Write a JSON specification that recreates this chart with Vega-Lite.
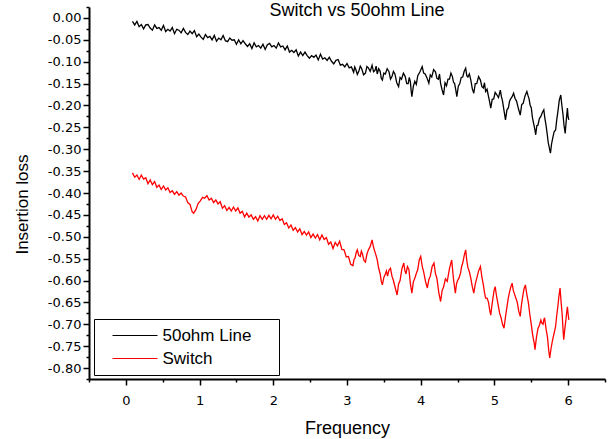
{
  "$schema": "https://vega.github.io/schema/vega-lite/v6.json",
  "width": 516,
  "height": 372,
  "autosize": {"type": "none"},
  "padding": {"left": 89, "top": 7, "right": 8, "bottom": 60},
  "background": "white",
  "title": {"text": "Switch vs 50ohm Line", "font": "Liberation Sans", "fontSize": 18, "fontWeight": "normal", "color": "black", "anchor": "middle", "frame": "group", "baseline": "alphabetic", "offset": 4, "dy": 32, "dx": 10},
  "config": {
    "view": {"stroke": null},
    "axis": {"domainColor": "black", "tickColor": "black", "labelColor": "black", "titleColor": "black", "grid": false, "labelFont": "DejaVu Sans", "titleFont": "Liberation Sans", "titleFontWeight": "normal"}
  },
  "datasets": {
    "black": [
      {"f":0.09,"v":-0.008},{"f":0.12,"v":-0.016},{"f":0.15,"v":-0.008},{"f":0.18,"v":-0.020},{"f":0.21,"v":-0.015},{"f":0.24,"v":-0.025},{"f":0.27,"v":-0.016},{"f":0.30,"v":-0.015},{"f":0.33,"v":-0.023},{"f":0.36,"v":-0.028},
      {"f":0.39,"v":-0.016},{"f":0.42,"v":-0.024},{"f":0.45,"v":-0.022},{"f":0.48,"v":-0.028},{"f":0.51,"v":-0.017},{"f":0.54,"v":-0.031},{"f":0.57,"v":-0.026},{"f":0.60,"v":-0.030},{"f":0.63,"v":-0.022},{"f":0.66,"v":-0.036},
      {"f":0.69,"v":-0.026},{"f":0.72,"v":-0.028},{"f":0.75,"v":-0.034},{"f":0.78,"v":-0.024},{"f":0.81,"v":-0.033},{"f":0.84,"v":-0.038},{"f":0.87,"v":-0.030},{"f":0.90,"v":-0.036},{"f":0.93,"v":-0.029},{"f":0.96,"v":-0.043},
      {"f":0.99,"v":-0.037},{"f":1.02,"v":-0.044},{"f":1.05,"v":-0.049},{"f":1.08,"v":-0.038},{"f":1.11,"v":-0.045},{"f":1.14,"v":-0.042},{"f":1.17,"v":-0.050},{"f":1.20,"v":-0.040},{"f":1.23,"v":-0.053},{"f":1.26,"v":-0.046},
      {"f":1.29,"v":-0.050},{"f":1.32,"v":-0.040},{"f":1.35,"v":-0.052},{"f":1.38,"v":-0.054},{"f":1.41,"v":-0.046},{"f":1.44,"v":-0.051},{"f":1.47,"v":-0.050},{"f":1.50,"v":-0.060},{"f":1.53,"v":-0.050},{"f":1.56,"v":-0.059},
      {"f":1.59,"v":-0.052},{"f":1.62,"v":-0.059},{"f":1.65,"v":-0.065},{"f":1.68,"v":-0.059},{"f":1.71,"v":-0.070},{"f":1.74,"v":-0.057},{"f":1.77,"v":-0.066},{"f":1.80,"v":-0.063},{"f":1.83,"v":-0.069},{"f":1.86,"v":-0.060},
      {"f":1.89,"v":-0.072},{"f":1.92,"v":-0.061},{"f":1.95,"v":-0.058},{"f":1.98,"v":-0.066},{"f":2.01,"v":-0.063},{"f":2.04,"v":-0.069},{"f":2.07,"v":-0.057},{"f":2.10,"v":-0.066},{"f":2.13,"v":-0.064},{"f":2.16,"v":-0.073},
      {"f":2.19,"v":-0.064},{"f":2.22,"v":-0.078},{"f":2.25,"v":-0.074},{"f":2.28,"v":-0.079},{"f":2.31,"v":-0.073},{"f":2.34,"v":-0.087},{"f":2.37,"v":-0.078},{"f":2.40,"v":-0.086},{"f":2.43,"v":-0.078},{"f":2.46,"v":-0.086},
      {"f":2.49,"v":-0.092},{"f":2.52,"v":-0.086},{"f":2.55,"v":-0.090},{"f":2.58,"v":-0.085},{"f":2.61,"v":-0.096},{"f":2.64,"v":-0.083},{"f":2.67,"v":-0.094},{"f":2.70,"v":-0.091},{"f":2.73,"v":-0.097},{"f":2.76,"v":-0.090},
      {"f":2.79,"v":-0.099},{"f":2.82,"v":-0.105},{"f":2.85,"v":-0.097},{"f":2.88,"v":-0.095},{"f":2.91,"v":-0.108},{"f":2.94,"v":-0.106},{"f":2.97,"v":-0.112},{"f":3.00,"v":-0.104},{"f":3.03,"v":-0.114},{"f":3.06,"v":-0.112},
      {"f":3.09,"v":-0.124},{"f":3.105,"v":-0.112},{"f":3.12,"v":-0.118},{"f":3.14,"v":-0.129},{"f":3.16,"v":-0.122},{"f":3.18,"v":-0.110},{"f":3.20,"v":-0.116},{"f":3.225,"v":-0.130},{"f":3.25,"v":-0.126},{"f":3.27,"v":-0.111},
      {"f":3.29,"v":-0.114},{"f":3.315,"v":-0.122},{"f":3.34,"v":-0.108},{"f":3.36,"v":-0.123},{"f":3.38,"v":-0.120},{"f":3.395,"v":-0.110},{"f":3.41,"v":-0.128},{"f":3.43,"v":-0.116},{"f":3.45,"v":-0.122},{"f":3.465,"v":-0.138},
      {"f":3.48,"v":-0.142},{"f":3.50,"v":-0.126},{"f":3.52,"v":-0.128},{"f":3.545,"v":-0.116},{"f":3.57,"v":-0.123},{"f":3.59,"v":-0.140},{"f":3.61,"v":-0.134},{"f":3.63,"v":-0.122},{"f":3.65,"v":-0.128},{"f":3.675,"v":-0.148},
      {"f":3.70,"v":-0.157},{"f":3.72,"v":-0.136},{"f":3.74,"v":-0.140},{"f":3.765,"v":-0.126},{"f":3.79,"v":-0.134},{"f":3.81,"v":-0.150},{"f":3.83,"v":-0.150},{"f":3.845,"v":-0.136},{"f":3.86,"v":-0.146},{"f":3.87,"v":-0.166},
      {"f":3.88,"v":-0.180},{"f":3.90,"v":-0.156},{"f":3.92,"v":-0.145},{"f":3.94,"v":-0.152},{"f":3.96,"v":-0.132},{"f":3.99,"v":-0.123},{"f":4.02,"v":-0.111},{"f":4.04,"v":-0.126},{"f":4.06,"v":-0.128},{"f":4.085,"v":-0.137},
      {"f":4.11,"v":-0.149},{"f":4.13,"v":-0.130},{"f":4.15,"v":-0.135},{"f":4.175,"v":-0.118},{"f":4.20,"v":-0.123},{"f":4.22,"v":-0.138},{"f":4.24,"v":-0.140},{"f":4.255,"v":-0.128},{"f":4.27,"v":-0.150},{"f":4.29,"v":-0.164},
      {"f":4.31,"v":-0.176},{"f":4.33,"v":-0.148},{"f":4.35,"v":-0.155},{"f":4.37,"v":-0.140},{"f":4.39,"v":-0.140},{"f":4.41,"v":-0.126},{"f":4.43,"v":-0.134},{"f":4.445,"v":-0.147},{"f":4.46,"v":-0.150},{"f":4.475,"v":-0.164},
      {"f":4.49,"v":-0.180},{"f":4.51,"v":-0.156},{"f":4.53,"v":-0.150},{"f":4.55,"v":-0.136},{"f":4.57,"v":-0.135},{"f":4.59,"v":-0.122},{"f":4.61,"v":-0.115},{"f":4.625,"v":-0.132},{"f":4.64,"v":-0.135},{"f":4.66,"v":-0.128},
      {"f":4.68,"v":-0.142},{"f":4.70,"v":-0.162},{"f":4.72,"v":-0.172},{"f":4.74,"v":-0.150},{"f":4.76,"v":-0.150},{"f":4.785,"v":-0.134},{"f":4.81,"v":-0.142},{"f":4.83,"v":-0.157},{"f":4.85,"v":-0.160},{"f":4.865,"v":-0.148},
      {"f":4.88,"v":-0.168},{"f":4.90,"v":-0.163},{"f":4.92,"v":-0.180},{"f":4.935,"v":-0.192},{"f":4.95,"v":-0.206},{"f":4.97,"v":-0.186},{"f":4.99,"v":-0.185},{"f":5.01,"v":-0.170},{"f":5.03,"v":-0.175},{"f":5.055,"v":-0.182},
      {"f":5.08,"v":-0.165},{"f":5.095,"v":-0.180},{"f":5.11,"v":-0.190},{"f":5.13,"v":-0.212},{"f":5.15,"v":-0.233},{"f":5.17,"v":-0.210},{"f":5.19,"v":-0.205},{"f":5.205,"v":-0.190},{"f":5.22,"v":-0.185},{"f":5.24,"v":-0.180},
      {"f":5.26,"v":-0.172},{"f":5.28,"v":-0.184},{"f":5.30,"v":-0.190},{"f":5.325,"v":-0.207},{"f":5.35,"v":-0.222},{"f":5.37,"v":-0.198},{"f":5.39,"v":-0.195},{"f":5.415,"v":-0.178},{"f":5.44,"v":-0.168},{"f":5.455,"v":-0.177},
      {"f":5.47,"v":-0.185},{"f":5.485,"v":-0.200},{"f":5.50,"v":-0.205},{"f":5.515,"v":-0.227},{"f":5.53,"v":-0.240},{"f":5.545,"v":-0.252},{"f":5.56,"v":-0.267},{"f":5.575,"v":-0.246},{"f":5.59,"v":-0.245},{"f":5.61,"v":-0.230},
      {"f":5.63,"v":-0.225},{"f":5.65,"v":-0.216},{"f":5.67,"v":-0.210},{"f":5.685,"v":-0.230},{"f":5.70,"v":-0.245},{"f":5.715,"v":-0.264},{"f":5.73,"v":-0.285},{"f":5.745,"v":-0.297},{"f":5.76,"v":-0.309},{"f":5.775,"v":-0.288},
      {"f":5.79,"v":-0.275},{"f":5.81,"v":-0.260},{"f":5.83,"v":-0.256},{"f":5.845,"v":-0.233},{"f":5.86,"v":-0.215},{"f":5.88,"v":-0.188},{"f":5.90,"v":-0.176},{"f":5.915,"v":-0.200},{"f":5.93,"v":-0.220},{"f":5.945,"v":-0.247},
      {"f":5.96,"v":-0.264},{"f":5.975,"v":-0.233},{"f":5.99,"v":-0.206},{"f":6.00,"v":-0.227},{"f":6.01,"v":-0.233}
    ],
    "red": [
      {"f":0.09,"v":-0.354},{"f":0.12,"v":-0.364},{"f":0.15,"v":-0.359},{"f":0.18,"v":-0.369},{"f":0.21,"v":-0.359},{"f":0.24,"v":-0.368},{"f":0.27,"v":-0.365},{"f":0.30,"v":-0.379},{"f":0.33,"v":-0.370},{"f":0.36,"v":-0.381},
      {"f":0.39,"v":-0.374},{"f":0.42,"v":-0.387},{"f":0.45,"v":-0.382},{"f":0.48,"v":-0.392},{"f":0.51,"v":-0.384},{"f":0.54,"v":-0.393},{"f":0.57,"v":-0.388},{"f":0.60,"v":-0.399},{"f":0.63,"v":-0.395},{"f":0.66,"v":-0.403},
      {"f":0.69,"v":-0.397},{"f":0.72,"v":-0.405},{"f":0.75,"v":-0.400},{"f":0.78,"v":-0.407},{"f":0.81,"v":-0.409},{"f":0.84,"v":-0.422},{"f":0.87,"v":-0.426},{"f":0.90,"v":-0.443},{"f":0.92,"v":-0.446},{"f":0.95,"v":-0.438},
      {"f":0.98,"v":-0.424},{"f":1.01,"v":-0.418},{"f":1.04,"v":-0.410},{"f":1.07,"v":-0.412},{"f":1.10,"v":-0.406},{"f":1.13,"v":-0.416},{"f":1.16,"v":-0.412},{"f":1.19,"v":-0.422},{"f":1.22,"v":-0.416},{"f":1.25,"v":-0.425},
      {"f":1.28,"v":-0.420},{"f":1.31,"v":-0.435},{"f":1.34,"v":-0.429},{"f":1.37,"v":-0.440},{"f":1.40,"v":-0.433},{"f":1.43,"v":-0.441},{"f":1.46,"v":-0.432},{"f":1.49,"v":-0.441},{"f":1.52,"v":-0.434},{"f":1.55,"v":-0.446},
      {"f":1.58,"v":-0.442},{"f":1.61,"v":-0.455},{"f":1.64,"v":-0.446},{"f":1.67,"v":-0.455},{"f":1.70,"v":-0.450},{"f":1.73,"v":-0.460},{"f":1.76,"v":-0.454},{"f":1.79,"v":-0.464},{"f":1.82,"v":-0.452},{"f":1.85,"v":-0.460},
      {"f":1.88,"v":-0.452},{"f":1.91,"v":-0.460},{"f":1.94,"v":-0.451},{"f":1.97,"v":-0.459},{"f":2.00,"v":-0.450},{"f":2.03,"v":-0.460},{"f":2.06,"v":-0.453},{"f":2.09,"v":-0.463},{"f":2.12,"v":-0.459},{"f":2.15,"v":-0.472},
      {"f":2.18,"v":-0.468},{"f":2.21,"v":-0.480},{"f":2.24,"v":-0.473},{"f":2.27,"v":-0.485},{"f":2.30,"v":-0.479},{"f":2.33,"v":-0.489},{"f":2.36,"v":-0.482},{"f":2.39,"v":-0.495},{"f":2.42,"v":-0.488},{"f":2.45,"v":-0.496},
      {"f":2.48,"v":-0.489},{"f":2.51,"v":-0.502},{"f":2.54,"v":-0.494},{"f":2.57,"v":-0.503},{"f":2.60,"v":-0.495},{"f":2.63,"v":-0.507},{"f":2.66,"v":-0.496},{"f":2.69,"v":-0.506},{"f":2.72,"v":-0.502},{"f":2.75,"v":-0.517},
      {"f":2.78,"v":-0.512},{"f":2.81,"v":-0.527},{"f":2.84,"v":-0.513},{"f":2.87,"v":-0.521},{"f":2.90,"v":-0.510},{"f":2.93,"v":-0.529},{"f":2.96,"v":-0.530},{"f":2.99,"v":-0.546},{"f":3.02,"v":-0.545},{"f":3.05,"v":-0.563},
      {"f":3.08,"v":-0.566},{"f":3.095,"v":-0.552},{"f":3.11,"v":-0.548},{"f":3.125,"v":-0.536},{"f":3.14,"v":-0.530},{"f":3.16,"v":-0.543},{"f":3.18,"v":-0.545},{"f":3.195,"v":-0.533},{"f":3.21,"v":-0.540},{"f":3.23,"v":-0.554},
      {"f":3.25,"v":-0.558},{"f":3.27,"v":-0.540},{"f":3.29,"v":-0.530},{"f":3.315,"v":-0.522},{"f":3.34,"v":-0.507},{"f":3.36,"v":-0.524},{"f":3.38,"v":-0.535},{"f":3.395,"v":-0.543},{"f":3.41,"v":-0.553},{"f":3.43,"v":-0.572},
      {"f":3.45,"v":-0.585},{"f":3.465,"v":-0.602},{"f":3.48,"v":-0.610},{"f":3.50,"v":-0.593},{"f":3.52,"v":-0.585},{"f":3.535,"v":-0.578},{"f":3.55,"v":-0.590},{"f":3.57,"v":-0.576},{"f":3.59,"v":-0.572},{"f":3.61,"v":-0.590},
      {"f":3.63,"v":-0.600},{"f":3.655,"v":-0.617},{"f":3.68,"v":-0.633},{"f":3.70,"v":-0.608},{"f":3.72,"v":-0.600},{"f":3.745,"v":-0.573},{"f":3.77,"v":-0.560},{"f":3.785,"v":-0.577},{"f":3.80,"v":-0.585},{"f":3.82,"v":-0.568},
      {"f":3.84,"v":-0.575},{"f":3.86,"v":-0.607},{"f":3.88,"v":-0.629},{"f":3.90,"v":-0.603},{"f":3.92,"v":-0.595},{"f":3.94,"v":-0.584},{"f":3.96,"v":-0.575},{"f":3.98,"v":-0.553},{"f":4.00,"v":-0.545},{"f":4.02,"v":-0.567},
      {"f":4.04,"v":-0.580},{"f":4.065,"v":-0.602},{"f":4.09,"v":-0.617},{"f":4.11,"v":-0.598},{"f":4.13,"v":-0.590},{"f":4.155,"v":-0.568},{"f":4.18,"v":-0.560},{"f":4.20,"v":-0.584},{"f":4.22,"v":-0.595},{"f":4.245,"v":-0.627},
      {"f":4.27,"v":-0.648},{"f":4.29,"v":-0.623},{"f":4.31,"v":-0.615},{"f":4.335,"v":-0.596},{"f":4.36,"v":-0.602},{"f":4.39,"v":-0.573},{"f":4.42,"v":-0.553},{"f":4.445,"v":-0.597},{"f":4.47,"v":-0.629},{"f":4.485,"v":-0.608},
      {"f":4.50,"v":-0.600},{"f":4.52,"v":-0.594},{"f":4.54,"v":-0.583},{"f":4.555,"v":-0.568},{"f":4.57,"v":-0.560},{"f":4.59,"v":-0.543},{"f":4.61,"v":-0.530},{"f":4.625,"v":-0.554},{"f":4.64,"v":-0.570},{"f":4.66,"v":-0.580},
      {"f":4.68,"v":-0.595},{"f":4.70,"v":-0.614},{"f":4.72,"v":-0.629},{"f":4.74,"v":-0.608},{"f":4.76,"v":-0.595},{"f":4.785,"v":-0.578},{"f":4.81,"v":-0.568},{"f":4.83,"v":-0.592},{"f":4.85,"v":-0.610},{"f":4.865,"v":-0.627},
      {"f":4.88,"v":-0.640},{"f":4.90,"v":-0.640},{"f":4.92,"v":-0.650},{"f":4.935,"v":-0.667},{"f":4.95,"v":-0.679},{"f":4.965,"v":-0.658},{"f":4.98,"v":-0.640},{"f":4.995,"v":-0.623},{"f":5.01,"v":-0.614},{"f":5.03,"v":-0.637},
      {"f":5.05,"v":-0.655},{"f":5.07,"v":-0.674},{"f":5.09,"v":-0.685},{"f":5.11,"v":-0.700},{"f":5.13,"v":-0.709},{"f":5.15,"v":-0.683},{"f":5.17,"v":-0.660},{"f":5.185,"v":-0.643},{"f":5.20,"v":-0.630},{"f":5.22,"v":-0.616},
      {"f":5.24,"v":-0.606},{"f":5.255,"v":-0.622},{"f":5.27,"v":-0.630},{"f":5.29,"v":-0.640},{"f":5.31,"v":-0.650},{"f":5.33,"v":-0.670},{"f":5.35,"v":-0.682},{"f":5.365,"v":-0.658},{"f":5.38,"v":-0.640},{"f":5.40,"v":-0.620},
      {"f":5.42,"v":-0.610},{"f":5.44,"v":-0.632},{"f":5.46,"v":-0.650},{"f":5.48,"v":-0.677},{"f":5.50,"v":-0.700},{"f":5.515,"v":-0.720},{"f":5.53,"v":-0.735},{"f":5.54,"v":-0.743},{"f":5.55,"v":-0.758},{"f":5.57,"v":-0.730},
      {"f":5.59,"v":-0.710},{"f":5.61,"v":-0.702},{"f":5.63,"v":-0.690},{"f":5.645,"v":-0.698},{"f":5.66,"v":-0.700},{"f":5.67,"v":-0.690},{"f":5.68,"v":-0.685},{"f":5.70,"v":-0.710},{"f":5.72,"v":-0.730},{"f":5.735,"v":-0.757},
      {"f":5.75,"v":-0.777},{"f":5.77,"v":-0.753},{"f":5.79,"v":-0.735},{"f":5.81,"v":-0.720},{"f":5.83,"v":-0.705},{"f":5.845,"v":-0.680},{"f":5.86,"v":-0.660},{"f":5.875,"v":-0.636},{"f":5.89,"v":-0.617},{"f":5.905,"v":-0.650},
      {"f":5.92,"v":-0.680},{"f":5.93,"v":-0.710},{"f":5.94,"v":-0.735},{"f":5.955,"v":-0.710},{"f":5.97,"v":-0.690},{"f":5.98,"v":-0.673},{"f":5.99,"v":-0.660},{"f":6.00,"v":-0.677},{"f":6.01,"v":-0.690}
    ]
  },
  "layer": [
    {
      "data": {"name": "black"},
      "mark": {"type": "line", "strokeWidth": 1.3, "interpolate": "linear"},
      "encoding": {
        "x": {"field": "f", "type": "quantitative", "scale": {"domain": [-0.5, 6.5], "nice": false, "zero": false},
          "axis": {"orient": "bottom", "title": "Frequency", "values": [0,1,2,3,4,5,6], "format": "d", "tickSize": 6, "tickWidth": 1.5, "domainWidth": 2, "labelPadding": 9, "labelFontSize": 13, "labelFlush": false, "labelOverlap": false, "titleFontSize": 18, "titleY": 54, "titleBaseline": "alphabetic"}},
        "y": {"field": "v", "type": "quantitative", "scale": {"domain": [-0.825, 0.025], "nice": false, "zero": false},
          "axis": {"orient": "left", "title": "Insertion loss", "values": [0,-0.05,-0.1,-0.15,-0.2,-0.25,-0.3,-0.35,-0.4,-0.45,-0.5,-0.55,-0.6,-0.65,-0.7,-0.75,-0.8], "labelExpr": "replace(format(datum.value,'.2f'),'−','-')", "tickSize": 6, "tickWidth": 1.5, "domainWidth": 2, "labelPadding": 2, "labelFontSize": 13, "labelFlush": false, "labelOverlap": false, "titleFontSize": 17, "titleAngle": -90, "titleX": -62, "titleY": 197, "titleBaseline": "alphabetic", "titleAlign": "center"}},
        "color": {"datum": "50ohm Line", "type": "nominal",
          "scale": {"domain": ["50ohm Line", "Switch"], "range": ["#000000", "#ff0000"]},
          "legend": {"orient": "none", "legendX": 5, "legendY": 312, "title": null, "strokeColor": "black", "fillColor": "white", "padding": 8, "symbolType": "M-1,0L9,0", "symbolSize": 81, "symbolStrokeWidth": 1, "symbolOffset": 6.5, "labelOffset": 37, "labelFont": "Liberation Sans", "labelFontSize": 17, "labelColor": "black", "rowPadding": 5, "labelExpr": "datum.label + '    \u200b'"}}
      }
    },
    {
      "data": {"name": "red"},
      "mark": {"type": "line", "strokeWidth": 1.3, "interpolate": "linear"},
      "encoding": {
        "x": {"field": "f", "type": "quantitative", "scale": {"domain": [-0.5, 6.5], "nice": false, "zero": false},
          "axis": {"orient": "bottom", "title": null, "labels": false, "domain": false, "values": [-0.5,0.5,1.5,2.5,3.5,4.5,5.5,6.5], "tickSize": 3, "tickWidth": 1.5}},
        "y": {"field": "v", "type": "quantitative", "scale": {"domain": [-0.825, 0.025], "nice": false, "zero": false},
          "axis": {"orient": "left", "title": null, "labels": false, "domain": false, "values": [0.025,-0.025,-0.075,-0.125,-0.175,-0.225,-0.275,-0.325,-0.375,-0.425,-0.475,-0.525,-0.575,-0.625,-0.675,-0.725,-0.775,-0.825], "tickSize": 3, "tickWidth": 1.5}},
        "color": {"datum": "Switch", "type": "nominal"}
      }
    }
  ],
  "resolve": {"scale": {"x": "independent", "y": "independent"}}
}
